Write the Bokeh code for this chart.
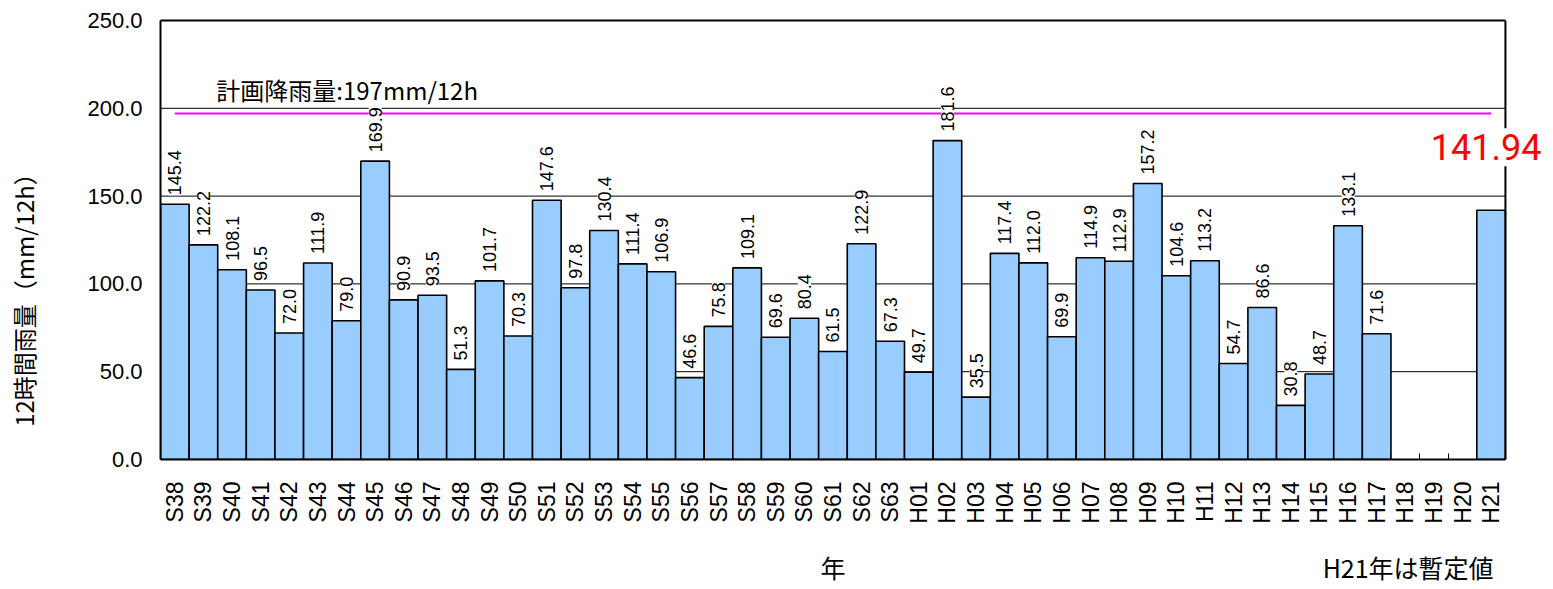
import math
from bokeh.plotting import figure
from bokeh.models import (ColumnDataSource, LabelSet, Label, Range1d, FixedTicker,
                          NumeralTickFormatter, LinearAxis)
from bokeh.core.properties import value
from bokeh.embed import file_html
from bokeh.resources import INLINE

# ---------------- data ----------------
years = ["S38", "S39", "S40", "S41", "S42", "S43", "S44", "S45", "S46", "S47",
         "S48", "S49", "S50", "S51", "S52", "S53", "S54", "S55", "S56", "S57",
         "S58", "S59", "S60", "S61", "S62", "S63", "H01", "H02", "H03", "H04",
         "H05", "H06", "H07", "H08", "H09", "H10", "H11", "H12", "H13", "H14",
         "H15", "H16", "H17", "H18", "H19", "H20", "H21"]
rain_12h = [145.4, 122.2, 108.1, 96.5, 72.0, 111.9, 79.0, 169.9, 90.9, 93.5,
            51.3, 101.7, 70.3, 147.6, 97.8, 130.4, 111.4, 106.9, 46.6, 75.8,
            109.1, 69.6, 80.4, 61.5, 122.9, 67.3, 49.7, 181.6, 35.5, 117.4,
            112.0, 69.9, 114.9, 112.9, 157.2, 104.6, 113.2, 54.7, 86.6, 30.8,
            48.7, 133.1, 71.6, None, None, None, 141.94]
plan_rain = 197
y_ticks = [0, 50, 100, 150, 200, 250]
provisional_year = "H21"
y_title = "12時間雨量（mm/12h）"
x_title = "年"
footnote = "H21年は暫定値"
plan_text = "計画降雨量:197mm/12h"

# ---------------- figure ----------------
n = len(years)
idx = list(range(n))
x0, x1 = -0.5, n - 0.5          # category area
y0, y1 = y_ticks[0], y_ticks[-1]
x_pad = 1.68                    # empty room right of the chart for the red label

p = figure(width=1553, height=589, output_backend="svg", toolbar_location=None,
           x_range=Range1d(x0, x1 + x_pad), y_range=Range1d(y0, y1),
           min_border_left=160, min_border_right=0, min_border_top=20,
           min_border_bottom=130)
p.outline_line_color = None
p.background_fill_color = "white"
p.border_fill_color = "white"
p.xgrid.grid_line_color = None
p.ygrid.grid_line_color = None

# horizontal grid lines, limited to the category area
gy = y_ticks[1:-1]
p.segment(x0=[x0] * len(gy), x1=[x1] * len(gy), y0=gy, y1=gy,
          line_color="black", line_width=1)

# bars
bar_x = [i for i, v in zip(idx, rain_12h) if v is not None]
bar_top = [v for v in rain_12h if v is not None]
p.vbar(x=bar_x, top=bar_top, width=1.0, bottom=0,
       fill_color="#99CCFF", line_color="black", line_width=1.6)

# plan line
p.line(x=[idx[0], idx[-1]], y=[plan_rain, plan_rain], line_color="#FF00FF", line_width=2)

# right border of the chart area
p.line(x=[x1, x1], y=[y0, y1], line_color="black", line_width=2)

# value labels
lab_x = [i for i, y, v in zip(idx, years, rain_12h) if v is not None and y != provisional_year]
lab_y = [v for y, v in zip(years, rain_12h) if v is not None and y != provisional_year]
lab_t = ["%.1f" % v for v in lab_y]
src = ColumnDataSource(dict(x=lab_x, y=lab_y, t=lab_t))
p.add_layout(LabelSet(x="x", y="y", text="t", source=src, angle=math.pi / 2,
                      text_align="left", text_baseline="middle", y_offset=9,
                      text_font=value("Liberation Sans"), text_font_size="18px",
                      text_color="black", background_fill_color="white"))

# bottom axis
p.xaxis.bounds = (x0, x1)
p.xaxis.ticker = FixedTicker(ticks=idx, minor_ticks=[i + 0.5 for i in idx[:-1]])
p.xaxis.major_label_overrides = {i: y for i, y in zip(idx, years)}
p.xaxis.major_label_orientation = math.pi / 2
p.xaxis.major_label_text_font = "Liberation Sans"
p.xaxis.major_label_text_font_size = "23px"
p.xaxis.major_label_text_color = "black"
p.xaxis.major_label_standoff = 22
p.xaxis.major_tick_in = 0
p.xaxis.major_tick_out = 0
p.xaxis.minor_tick_in = 6
p.xaxis.minor_tick_out = 0
p.xaxis.minor_tick_line_color = "black"
p.xaxis.axis_line_color = "black"
p.xaxis.axis_line_width = 2

# second bottom axis carrying the x title and the footnote as labels
x_title_pos = (n - 1) / 2
footnote_pos = 43.1
ax2 = LinearAxis(ticker=FixedTicker(ticks=[x_title_pos, footnote_pos]),
                 major_label_overrides={x_title_pos: x_title, footnote_pos: footnote},
                 axis_line_color=None, major_tick_line_color=None,
                 minor_tick_line_color=None, major_label_standoff=16,
                 major_label_text_font="Noto Sans CJK JP",
                 major_label_text_font_size="25px", major_label_text_color="black")
p.add_layout(ax2, "below")

# top border as an axis line
top_ax = LinearAxis(bounds=(x0, x1), ticker=FixedTicker(ticks=[]),
                    axis_line_color="black", axis_line_width=2,
                    major_tick_line_color=None, minor_tick_line_color=None,
                    major_label_text_font_size="0px")
p.add_layout(top_ax, "above")

# left axis
p.yaxis.ticker = FixedTicker(ticks=y_ticks)
p.yaxis.formatter = NumeralTickFormatter(format="0.0")
p.yaxis.major_label_text_font = "Liberation Sans"
p.yaxis.major_label_text_font_size = "22px"
p.yaxis.major_label_text_color = "black"
p.yaxis.major_label_standoff = 18
p.yaxis.major_tick_in = 0
p.yaxis.major_tick_out = 0
p.yaxis.minor_tick_line_color = None
p.yaxis.axis_line_color = "black"
p.yaxis.axis_line_width = 2

# second left axis carrying the y title (trailing ideographic spaces move it
# down the axis, as in the original where it sits below the middle)
ay2 = LinearAxis(ticker=FixedTicker(ticks=[]),
                 axis_line_color=None, major_tick_line_color=None,
                 minor_tick_line_color=None, major_label_standoff=0,
                 major_label_text_font_size="0px",
                 axis_label=y_title + "\u3000" * 5, axis_label_standoff=44,
                 axis_label_text_font="Noto Sans CJK JP",
                 axis_label_text_font_style="normal",
                 axis_label_text_font_size="24px", axis_label_text_color="black")
p.add_layout(ay2, "left")

# annotations
p.add_layout(Label(x=1.45, y=210.7, text=plan_text,
                   text_font="Noto Sans CJK JP", text_font_size="24px",
                   text_align="left", text_baseline="middle", text_color="black"))
p.add_layout(Label(x=idx[-1], y=rain_12h[-1], text="%.2f" % rain_12h[-1],
                   x_offset=-5, y_offset=63,
                   text_font="Roboto", text_font_size="36px",
                   text_align="center", text_baseline="middle", text_color="red",
                   background_fill_color="white", padding=6))

open("out.html", "w").write(file_html(p, INLINE))
